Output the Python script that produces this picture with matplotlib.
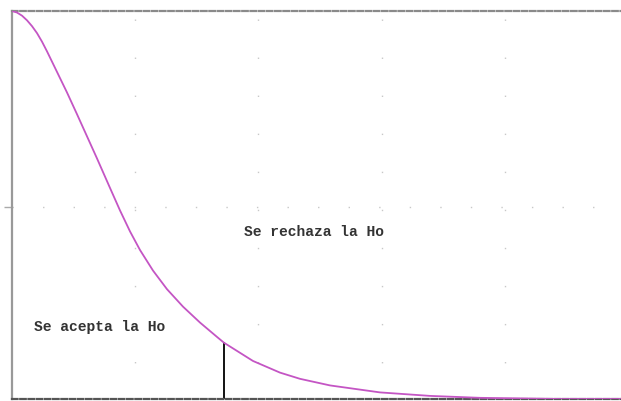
import matplotlib
matplotlib.use("Agg")
import matplotlib.pyplot as plt

# curve (x in arbitrary units, y as fraction of height)
curve_x = [0.0, 0.05, 0.10, 0.15, 0.20, 0.25, 0.30, 0.35, 0.45, 0.55, 0.65,
           0.75, 0.85, 0.98, 1.08, 1.18, 1.28, 1.41, 1.55, 1.71, 1.88, 2.05,
           2.12, 2.41, 2.68, 2.88, 3.18, 3.68, 4.18, 4.68, 5.48, 6.09]
curve_y = [1.0, 0.996, 0.988, 0.976, 0.961, 0.943, 0.921, 0.896, 0.843,
           0.790, 0.734, 0.677, 0.620, 0.544, 0.486, 0.432, 0.384, 0.331,
           0.283, 0.238, 0.197, 0.160, 0.145, 0.098, 0.068, 0.052, 0.035,
           0.017, 0.008, 0.003, 0.0, 0.0]

crit_x = 2.12
crit_y = 0.145

grid_x = [1.23, 2.46, 3.70, 4.93]
grid_y = [0.495]

label_accept = "Se acepta la Ho"
label_reject = "Se rechaza la Ho"

fig = plt.figure(figsize=(6.21, 4.01), dpi=100)
ax = fig.add_axes([12 / 621, 2 / 401, 609 / 621, 388 / 401])

ax.plot(curve_x, curve_y, color="#c455c4", lw=1.3, zorder=3,
        solid_joinstyle="round")
ax.plot([crit_x, crit_x], [0, crit_y], color="black", lw=1.3, zorder=2)

ax.text(0.22, 0.186, label_accept, family="Liberation Mono", weight="bold",
        fontsize=10.5, color="#333333", va="center")
ax.text(2.32, 0.43, label_reject, family="Liberation Mono", weight="bold",
        fontsize=10.5, color="#333333", va="center")

ax.set_xlim(0, 6.09)
ax.set_ylim(0, 1)
ax.set_xticks(grid_x)
ax.set_yticks(grid_y)
ax.set_xticklabels([])
ax.set_yticklabels([])
ax.tick_params(axis="x", length=0)
ax.tick_params(axis="y", length=6, color="#aaaaaa", width=1)

for xv in grid_x:
    ax.axvline(xv, color="#c8c8c8", lw=1, ls=(1.4, (1, 26.4)), zorder=1)
for yv in grid_y:
    ax.axhline(yv, color="#c8c8c8", lw=1, ls=(0, (1, 21)), zorder=1)

ax.spines["right"].set_visible(False)
ax.spines["left"].set_color("#999999")
ax.spines["left"].set_linewidth(1.6)
ax.spines["top"].set_color("#8a8a8a")
ax.spines["top"].set_linewidth(1.6)
ax.spines["top"].set_linestyle((0, (2.5, 1.2)))
ax.spines["bottom"].set_color("#555555")
ax.spines["bottom"].set_linewidth(1.6)
ax.spines["bottom"].set_linestyle((0, (2.5, 1.2)))

fig.savefig("out.png", dpi=100)
